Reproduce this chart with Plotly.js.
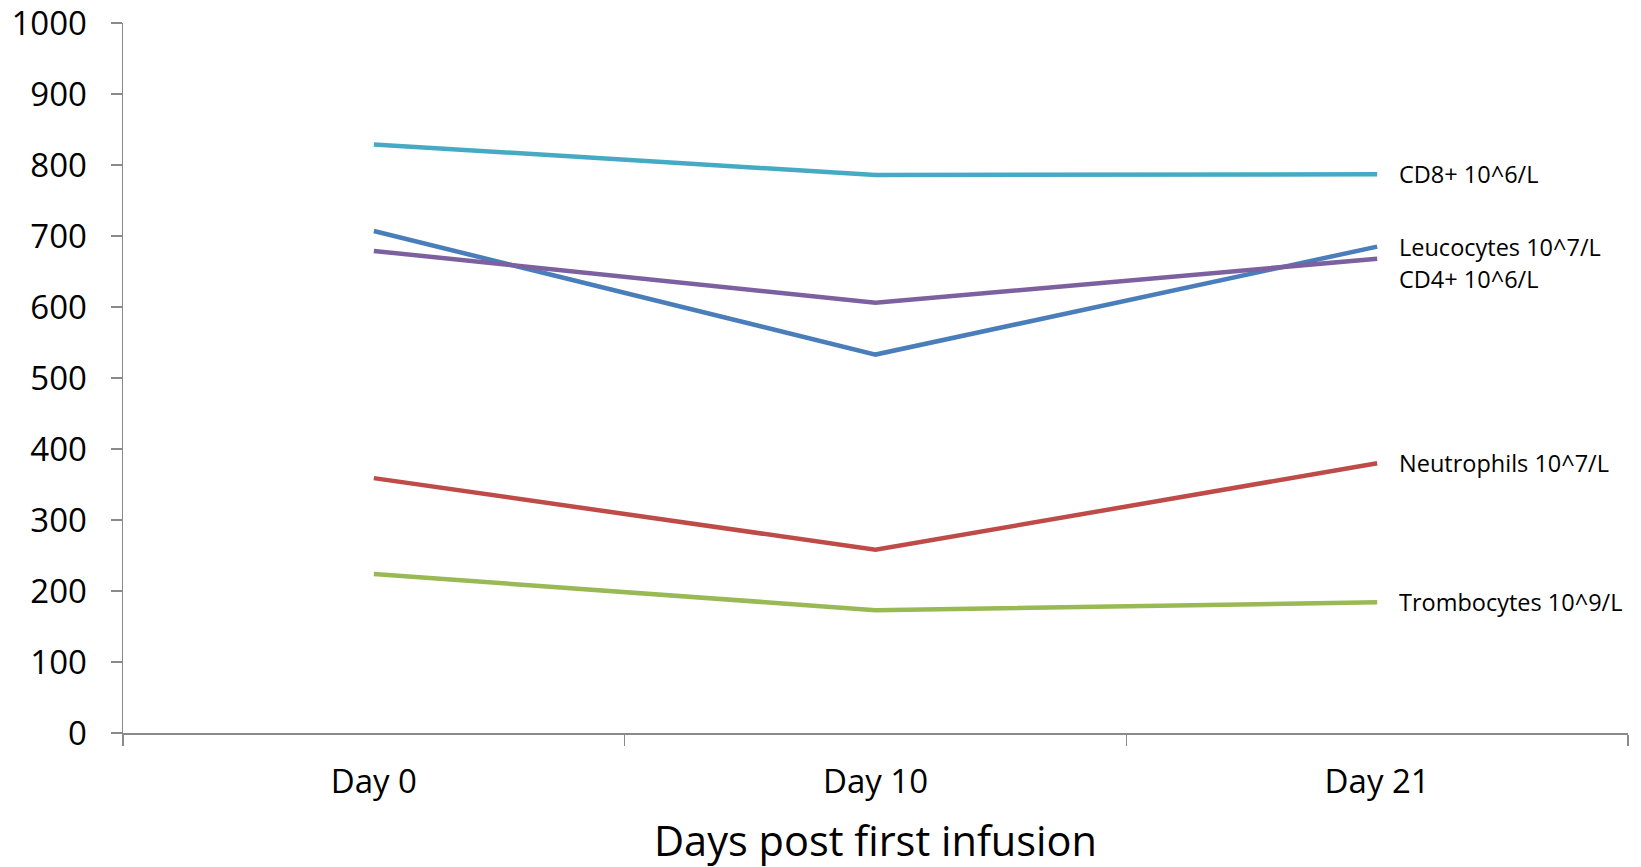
<!DOCTYPE html>
<html>
<head>
<meta charset="utf-8">
<script src="https://cdn.plot.ly/plotly-3.0.1.min.js"></script>
<style>html,body{margin:0;padding:0;background:#fff;}</style>
</head>
<body>
<div id="chart" style="width:1641px;height:867px;"></div>
<script>
const days = ["Day 0", "Day 10", "Day 21"];
const leucocytes = [707, 533, 685];
const neutrophils = [359, 258, 380];
const trombocytes = [224, 173, 184];
const cd4 = [679, 606, 668];
const cd8 = [829, 786, 787];
const seriesNames = ["Leucocytes 10^7/L", "Neutrophils 10^7/L", "Trombocytes 10^9/L", "CD4+ 10^6/L", "CD8+ 10^6/L"];
const seriesValues = [leucocytes, neutrophils, trombocytes, cd4, cd8];
const seriesColors = ["#4A7EBB", "#BE4B48", "#98B954", "#7D60A0", "#46AAC5"];
const labelShift = [0, 0, 0, -20, 0];
const xTitle = "Days post first infusion";

const FONT = "Open Sans, sans-serif";
const traces = seriesValues.map((v, i) => ({
  type: "scatter", mode: "lines", x: days, y: v, name: seriesNames[i],
  line: {color: seriesColors[i], width: 4.5}
}));

const annotations = seriesValues.map((v, i) => ({
  x: days[days.length - 1], y: v[v.length - 1], xref: "x", yref: "y",
  text: seriesNames[i], showarrow: false, xanchor: "left", yanchor: "middle",
  xshift: 20, yshift: labelShift[i],
  font: {family: FONT, size: 23.5, color: "#000"}
}));
annotations.push({
  x: 0.5, y: 0, xref: "paper", yref: "paper", text: xTitle, showarrow: false,
  xanchor: "center", yanchor: "middle", yshift: -107,
  font: {family: FONT, size: 41.5, color: "#000"}
});

const layout = {
  width: 1641, height: 867,
  margin: {l: 123, r: 13, t: 23, b: 134, pad: 0},
  paper_bgcolor: "#fff", plot_bgcolor: "#fff",
  showlegend: false,
  font: {family: FONT, color: "#000"},
  xaxis: {
    type: "category", range: [-0.5, 2.5], tickson: "boundaries",
    ticks: "outside", ticklen: 11, tickwidth: 1.5, tickcolor: "#8a8a8a",
    showline: true, linecolor: "#8a8a8a", linewidth: 1.5,
    showgrid: false, zeroline: false,
    tickfont: {family: FONT, size: 33, color: "#000"},
    ticklabelstandoff: 19
  },
  yaxis: {
    range: [0, 1000], tick0: 0, dtick: 100,
    ticks: "outside", ticklen: 11, tickwidth: 1.5, tickcolor: "#8a8a8a",
    showline: true, linecolor: "#8a8a8a", linewidth: 1.5,
    showgrid: false, zeroline: false,
    tickfont: {family: FONT, size: 33, color: "#000"},
    ticklabelstandoff: 17, ticklabeloverflow: "allow"
  },
  annotations: annotations
};

Plotly.newPlot("chart", traces, layout, {displayModeBar: false, staticPlot: true});
</script>
</body>
</html>
